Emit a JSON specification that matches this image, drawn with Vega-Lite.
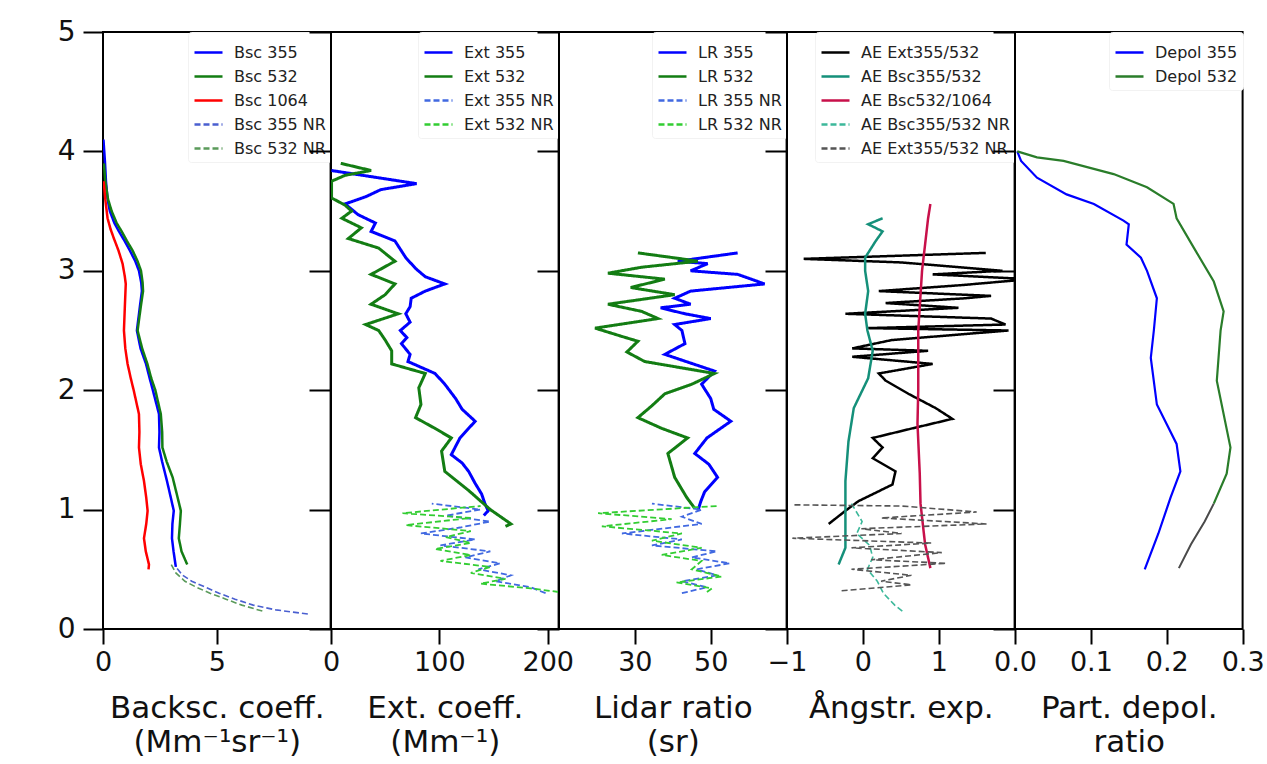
{
"$schema":"https://vega.github.io/schema/vega-lite/v6.json",
"autosize":{"type":"pad"},
"padding":{"left":56,"top":17,"right":0,"bottom":0},
"background":"white",
"spacing":0,
"bounds":"flush",
"datasets":{
"bsc":[
{"s":"Bsc 355","h":4.1,"v":0.02},{"s":"Bsc 355","h":3.9,"v":0.09},{"s":"Bsc 355","h":3.75,"v":0.13},{"s":"Bsc 355","h":3.6,"v":0.2},{"s":"Bsc 355","h":3.5,"v":0.3},{"s":"Bsc 355","h":3.4,"v":0.5},{"s":"Bsc 355","h":3.33,"v":0.7},{"s":"Bsc 355","h":3.25,"v":0.95},{"s":"Bsc 355","h":3.17,"v":1.18},{"s":"Bsc 355","h":3.08,"v":1.42},{"s":"Bsc 355","h":3.0,"v":1.58},{"s":"Bsc 355","h":2.9,"v":1.68},{"s":"Bsc 355","h":2.83,"v":1.71},{"s":"Bsc 355","h":2.7,"v":1.62},{"s":"Bsc 355","h":2.5,"v":1.49},{"s":"Bsc 355","h":2.35,"v":1.65},{"s":"Bsc 355","h":2.22,"v":1.89},{"s":"Bsc 355","h":2.1,"v":2.05},{"s":"Bsc 355","h":2.0,"v":2.19},{"s":"Bsc 355","h":1.8,"v":2.46},{"s":"Bsc 355","h":1.65,"v":2.48},{"s":"Bsc 355","h":1.52,"v":2.46},{"s":"Bsc 355","h":1.4,"v":2.6},{"s":"Bsc 355","h":1.24,"v":2.81},{"s":"Bsc 355","h":1.1,"v":2.98},{"s":"Bsc 355","h":0.99,"v":3.11},{"s":"Bsc 355","h":0.88,"v":3.05},{"s":"Bsc 355","h":0.76,"v":3.03},{"s":"Bsc 355","h":0.65,"v":3.1},{"s":"Bsc 355","h":0.52,"v":3.2},
{"s":"Bsc 532","h":3.9,"v":0.04},{"s":"Bsc 532","h":3.75,"v":0.1},{"s":"Bsc 532","h":3.6,"v":0.22},{"s":"Bsc 532","h":3.5,"v":0.38},{"s":"Bsc 532","h":3.4,"v":0.6},{"s":"Bsc 532","h":3.33,"v":0.82},{"s":"Bsc 532","h":3.25,"v":1.05},{"s":"Bsc 532","h":3.17,"v":1.3},{"s":"Bsc 532","h":3.08,"v":1.52},{"s":"Bsc 532","h":3.0,"v":1.67},{"s":"Bsc 532","h":2.9,"v":1.74},{"s":"Bsc 532","h":2.83,"v":1.76},{"s":"Bsc 532","h":2.7,"v":1.66},{"s":"Bsc 532","h":2.5,"v":1.52},{"s":"Bsc 532","h":2.35,"v":1.72},{"s":"Bsc 532","h":2.22,"v":1.95},{"s":"Bsc 532","h":2.1,"v":2.12},{"s":"Bsc 532","h":2.0,"v":2.3},{"s":"Bsc 532","h":1.8,"v":2.54},{"s":"Bsc 532","h":1.65,"v":2.6},{"s":"Bsc 532","h":1.52,"v":2.61},{"s":"Bsc 532","h":1.4,"v":2.8},{"s":"Bsc 532","h":1.27,"v":3.06},{"s":"Bsc 532","h":1.1,"v":3.28},{"s":"Bsc 532","h":0.99,"v":3.42},{"s":"Bsc 532","h":0.88,"v":3.38},{"s":"Bsc 532","h":0.76,"v":3.33},{"s":"Bsc 532","h":0.65,"v":3.45},{"s":"Bsc 532","h":0.54,"v":3.7},
{"s":"Bsc 1064","h":3.75,"v":0.03},{"s":"Bsc 1064","h":3.6,"v":0.1},{"s":"Bsc 1064","h":3.44,"v":0.2},{"s":"Bsc 1064","h":3.35,"v":0.33},{"s":"Bsc 1064","h":3.27,"v":0.48},{"s":"Bsc 1064","h":3.17,"v":0.68},{"s":"Bsc 1064","h":3.06,"v":0.86},{"s":"Bsc 1064","h":2.95,"v":0.96},{"s":"Bsc 1064","h":2.89,"v":1.0},{"s":"Bsc 1064","h":2.7,"v":0.96},{"s":"Bsc 1064","h":2.5,"v":0.92},{"s":"Bsc 1064","h":2.35,"v":0.98},{"s":"Bsc 1064","h":2.22,"v":1.08},{"s":"Bsc 1064","h":2.1,"v":1.22},{"s":"Bsc 1064","h":1.99,"v":1.36},{"s":"Bsc 1064","h":1.8,"v":1.58},{"s":"Bsc 1064","h":1.65,"v":1.6},{"s":"Bsc 1064","h":1.52,"v":1.58},{"s":"Bsc 1064","h":1.38,"v":1.66},{"s":"Bsc 1064","h":1.24,"v":1.8},{"s":"Bsc 1064","h":1.1,"v":1.9},{"s":"Bsc 1064","h":0.99,"v":1.96},{"s":"Bsc 1064","h":0.88,"v":1.9},{"s":"Bsc 1064","h":0.76,"v":1.8},{"s":"Bsc 1064","h":0.65,"v":1.88},{"s":"Bsc 1064","h":0.54,"v":2.02},{"s":"Bsc 1064","h":0.5,"v":2.0},
{"s":"Bsc 355 NR","h":0.52,"v":3.2},{"s":"Bsc 355 NR","h":0.45,"v":3.5},{"s":"Bsc 355 NR","h":0.4,"v":3.9},{"s":"Bsc 355 NR","h":0.35,"v":4.5},{"s":"Bsc 355 NR","h":0.3,"v":5.1},{"s":"Bsc 355 NR","h":0.25,"v":5.8},{"s":"Bsc 355 NR","h":0.2,"v":6.6},{"s":"Bsc 355 NR","h":0.16,"v":7.6},{"s":"Bsc 355 NR","h":0.125,"v":9.0},
{"s":"Bsc 532 NR","h":0.54,"v":3.0},{"s":"Bsc 532 NR","h":0.47,"v":3.2},{"s":"Bsc 532 NR","h":0.4,"v":3.6},{"s":"Bsc 532 NR","h":0.35,"v":4.1},{"s":"Bsc 532 NR","h":0.3,"v":4.7},{"s":"Bsc 532 NR","h":0.25,"v":5.4},{"s":"Bsc 532 NR","h":0.2,"v":6.1},{"s":"Bsc 532 NR","h":0.15,"v":7.0}
],
"ext":[
{"s":"Ext 355","h":3.84,"v":0.4},{"s":"Ext 355","h":3.79,"v":36},{"s":"Ext 355","h":3.73,"v":79},{"s":"Ext 355","h":3.68,"v":46},{"s":"Ext 355","h":3.62,"v":32},{"s":"Ext 355","h":3.56,"v":13},{"s":"Ext 355","h":3.47,"v":25},{"s":"Ext 355","h":3.4,"v":41},{"s":"Ext 355","h":3.33,"v":37},{"s":"Ext 355","h":3.25,"v":59},{"s":"Ext 355","h":3.18,"v":64},{"s":"Ext 355","h":3.11,"v":69},{"s":"Ext 355","h":3.02,"v":78},{"s":"Ext 355","h":2.95,"v":87},{"s":"Ext 355","h":2.89,"v":105},{"s":"Ext 355","h":2.83,"v":87},{"s":"Ext 355","h":2.77,"v":74},{"s":"Ext 355","h":2.7,"v":73},{"s":"Ext 355","h":2.64,"v":69},{"s":"Ext 355","h":2.57,"v":73},{"s":"Ext 355","h":2.5,"v":64},{"s":"Ext 355","h":2.44,"v":70},{"s":"Ext 355","h":2.39,"v":65},{"s":"Ext 355","h":2.3,"v":73},{"s":"Ext 355","h":2.24,"v":71},{"s":"Ext 355","h":2.14,"v":96},{"s":"Ext 355","h":2.05,"v":105},{"s":"Ext 355","h":1.93,"v":115},{"s":"Ext 355","h":1.84,"v":121},{"s":"Ext 355","h":1.74,"v":133},{"s":"Ext 355","h":1.6,"v":119},{"s":"Ext 355","h":1.46,"v":111},{"s":"Ext 355","h":1.39,"v":121},{"s":"Ext 355","h":1.32,"v":127},{"s":"Ext 355","h":1.22,"v":133},{"s":"Ext 355","h":1.13,"v":139},{"s":"Ext 355","h":1.05,"v":142},{"s":"Ext 355","h":0.99,"v":145},{"s":"Ext 355","h":0.95,"v":141},
{"s":"Ext 532","h":3.9,"v":9},{"s":"Ext 532","h":3.84,"v":37},{"s":"Ext 532","h":3.8,"v":13},{"s":"Ext 532","h":3.75,"v":0.5},{"s":"Ext 532","h":3.61,"v":0.5},{"s":"Ext 532","h":3.55,"v":13},{"s":"Ext 532","h":3.5,"v":19},{"s":"Ext 532","h":3.44,"v":10},{"s":"Ext 532","h":3.36,"v":28},{"s":"Ext 532","h":3.27,"v":16},{"s":"Ext 532","h":3.19,"v":44},{"s":"Ext 532","h":3.08,"v":59},{"s":"Ext 532","h":2.97,"v":37},{"s":"Ext 532","h":2.89,"v":59},{"s":"Ext 532","h":2.8,"v":50},{"s":"Ext 532","h":2.72,"v":37},{"s":"Ext 532","h":2.64,"v":62},{"s":"Ext 532","h":2.55,"v":32},{"s":"Ext 532","h":2.5,"v":44},{"s":"Ext 532","h":2.42,"v":50},{"s":"Ext 532","h":2.33,"v":56},{"s":"Ext 532","h":2.22,"v":56},{"s":"Ext 532","h":2.14,"v":87},{"s":"Ext 532","h":2.02,"v":81},{"s":"Ext 532","h":1.88,"v":83},{"s":"Ext 532","h":1.77,"v":78},{"s":"Ext 532","h":1.68,"v":96},{"s":"Ext 532","h":1.6,"v":111},{"s":"Ext 532","h":1.49,"v":102},{"s":"Ext 532","h":1.32,"v":105},{"s":"Ext 532","h":1.16,"v":127},{"s":"Ext 532","h":1.0,"v":147},{"s":"Ext 532","h":0.88,"v":166},{"s":"Ext 532","h":0.86,"v":161},
{"s":"Ext 355 NR","h":1.05,"v":93},{"s":"Ext 355 NR","h":1.0,"v":138},{"s":"Ext 355 NR","h":0.95,"v":106},{"s":"Ext 355 NR","h":0.9,"v":147},{"s":"Ext 355 NR","h":0.85,"v":119},{"s":"Ext 355 NR","h":0.8,"v":83},{"s":"Ext 355 NR","h":0.75,"v":133},{"s":"Ext 355 NR","h":0.7,"v":101},{"s":"Ext 355 NR","h":0.65,"v":147},{"s":"Ext 355 NR","h":0.6,"v":124},{"s":"Ext 355 NR","h":0.55,"v":156},{"s":"Ext 355 NR","h":0.5,"v":136},{"s":"Ext 355 NR","h":0.45,"v":166},{"s":"Ext 355 NR","h":0.4,"v":152},{"s":"Ext 355 NR","h":0.35,"v":184},{"s":"Ext 355 NR","h":0.3,"v":198},
{"s":"Ext 532 NR","h":1.03,"v":138},{"s":"Ext 532 NR","h":0.97,"v":66},{"s":"Ext 532 NR","h":0.93,"v":129},{"s":"Ext 532 NR","h":0.87,"v":69},{"s":"Ext 532 NR","h":0.82,"v":129},{"s":"Ext 532 NR","h":0.77,"v":106},{"s":"Ext 532 NR","h":0.72,"v":129},{"s":"Ext 532 NR","h":0.67,"v":96},{"s":"Ext 532 NR","h":0.62,"v":129},{"s":"Ext 532 NR","h":0.57,"v":101},{"s":"Ext 532 NR","h":0.52,"v":147},{"s":"Ext 532 NR","h":0.47,"v":129},{"s":"Ext 532 NR","h":0.42,"v":161},{"s":"Ext 532 NR","h":0.38,"v":138},{"s":"Ext 532 NR","h":0.34,"v":184},{"s":"Ext 532 NR","h":0.31,"v":210}
],
"lr":[
{"s":"LR 355","h":3.15,"v":57.1},{"s":"LR 355","h":3.08,"v":41.3},{"s":"LR 355","h":3.06,"v":49.2},{"s":"LR 355","h":3.0,"v":44.7},{"s":"LR 355","h":2.97,"v":57.1},{"s":"LR 355","h":2.89,"v":64.2},{"s":"LR 355","h":2.83,"v":44.7},{"s":"LR 355","h":2.77,"v":40.5},{"s":"LR 355","h":2.72,"v":44.7},{"s":"LR 355","h":2.69,"v":36.8},{"s":"LR 355","h":2.64,"v":43.2},{"s":"LR 355","h":2.6,"v":50},{"s":"LR 355","h":2.55,"v":40.5},{"s":"LR 355","h":2.5,"v":42.4},{"s":"LR 355","h":2.39,"v":43.2},{"s":"LR 355","h":2.3,"v":37.9},{"s":"LR 355","h":2.16,"v":51},{"s":"LR 355","h":2.05,"v":47.6},{"s":"LR 355","h":1.93,"v":50},{"s":"LR 355","h":1.84,"v":50.8},{"s":"LR 355","h":1.74,"v":55.3},{"s":"LR 355","h":1.6,"v":49},{"s":"LR 355","h":1.47,"v":45.8},{"s":"LR 355","h":1.38,"v":49.5},{"s":"LR 355","h":1.27,"v":51.8},{"s":"LR 355","h":1.15,"v":48.4},{"s":"LR 355","h":1.07,"v":47.4},{"s":"LR 355","h":0.99,"v":46.6},
{"s":"LR 532","h":3.15,"v":30.8},{"s":"LR 532","h":3.1,"v":42.4},{"s":"LR 532","h":3.08,"v":46.6},{"s":"LR 532","h":3.03,"v":31.8},{"s":"LR 532","h":2.98,"v":22.9},{"s":"LR 532","h":2.93,"v":37.9},{"s":"LR 532","h":2.86,"v":28.9},{"s":"LR 532","h":2.8,"v":40.5},{"s":"LR 532","h":2.72,"v":22.9},{"s":"LR 532","h":2.66,"v":31.8},{"s":"LR 532","h":2.6,"v":36.1},{"s":"LR 532","h":2.52,"v":19.5},{"s":"LR 532","h":2.45,"v":26.6},{"s":"LR 532","h":2.41,"v":30.8},{"s":"LR 532","h":2.32,"v":27.9},{"s":"LR 532","h":2.24,"v":32.6},{"s":"LR 532","h":2.14,"v":51},{"s":"LR 532","h":2.05,"v":45},{"s":"LR 532","h":1.97,"v":37.9},{"s":"LR 532","h":1.87,"v":34.5},{"s":"LR 532","h":1.77,"v":30.8},{"s":"LR 532","h":1.68,"v":37.1},{"s":"LR 532","h":1.6,"v":43.9},{"s":"LR 532","h":1.47,"v":38.7},{"s":"LR 532","h":1.27,"v":40.5},{"s":"LR 532","h":1.1,"v":43.7},{"s":"LR 532","h":1.01,"v":45.8},
{"s":"LR 355 NR","h":1.05,"v":34.5},{"s":"LR 355 NR","h":1.0,"v":47.6},{"s":"LR 355 NR","h":0.94,"v":42.4},{"s":"LR 355 NR","h":0.88,"v":47.6},{"s":"LR 355 NR","h":0.8,"v":26.6},{"s":"LR 355 NR","h":0.75,"v":42.4},{"s":"LR 355 NR","h":0.7,"v":34.5},{"s":"LR 355 NR","h":0.65,"v":51.6},{"s":"LR 355 NR","h":0.6,"v":45},{"s":"LR 355 NR","h":0.55,"v":55},{"s":"LR 355 NR","h":0.5,"v":46.3},{"s":"LR 355 NR","h":0.45,"v":51.6},{"s":"LR 355 NR","h":0.4,"v":42.4},{"s":"LR 355 NR","h":0.35,"v":49},{"s":"LR 355 NR","h":0.3,"v":42.4},
{"s":"LR 532 NR","h":1.03,"v":51.6},{"s":"LR 532 NR","h":0.97,"v":20.3},{"s":"LR 532 NR","h":0.92,"v":39.7},{"s":"LR 532 NR","h":0.86,"v":21.3},{"s":"LR 532 NR","h":0.8,"v":42.4},{"s":"LR 532 NR","h":0.74,"v":34.5},{"s":"LR 532 NR","h":0.68,"v":47.6},{"s":"LR 532 NR","h":0.62,"v":37.1},{"s":"LR 532 NR","h":0.57,"v":47.6},{"s":"LR 532 NR","h":0.5,"v":45},{"s":"LR 532 NR","h":0.44,"v":52.9},{"s":"LR 532 NR","h":0.39,"v":41},{"s":"LR 532 NR","h":0.34,"v":50.3},{"s":"LR 532 NR","h":0.31,"v":49}
],
"ae":[
{"s":"AE Ext355/532","h":3.15,"v":1.62},{"s":"AE Ext355/532","h":3.1,"v":-0.78},{"s":"AE Ext355/532","h":3.07,"v":0.51},{"s":"AE Ext355/532","h":3.0,"v":1.84},{"s":"AE Ext355/532","h":2.97,"v":0.92},{"s":"AE Ext355/532","h":2.93,"v":2.2},{"s":"AE Ext355/532","h":2.88,"v":1.3},{"s":"AE Ext355/532","h":2.83,"v":0.21},{"s":"AE Ext355/532","h":2.79,"v":1.69},{"s":"AE Ext355/532","h":2.77,"v":1.35},{"s":"AE Ext355/532","h":2.73,"v":0.3},{"s":"AE Ext355/532","h":2.69,"v":1.26},{"s":"AE Ext355/532","h":2.64,"v":-0.23},{"s":"AE Ext355/532","h":2.6,"v":1.69},{"s":"AE Ext355/532","h":2.55,"v":1.88},{"s":"AE Ext355/532","h":2.52,"v":0.07},{"s":"AE Ext355/532","h":2.5,"v":1.92},{"s":"AE Ext355/532","h":2.42,"v":0.38},{"s":"AE Ext355/532","h":2.35,"v":-0.14},{"s":"AE Ext355/532","h":2.33,"v":0.86},{"s":"AE Ext355/532","h":2.28,"v":-0.14},{"s":"AE Ext355/532","h":2.22,"v":0.92},{"s":"AE Ext355/532","h":2.14,"v":0.21},{"s":"AE Ext355/532","h":2.08,"v":0.3},{"s":"AE Ext355/532","h":1.97,"v":0.6},{"s":"AE Ext355/532","h":1.85,"v":0.96},{"s":"AE Ext355/532","h":1.76,"v":1.18},{"s":"AE Ext355/532","h":1.68,"v":0.65},{"s":"AE Ext355/532","h":1.6,"v":0.13},{"s":"AE Ext355/532","h":1.52,"v":0.26},{"s":"AE Ext355/532","h":1.43,"v":0.13},{"s":"AE Ext355/532","h":1.32,"v":0.43},{"s":"AE Ext355/532","h":1.21,"v":0.39},{"s":"AE Ext355/532","h":1.07,"v":-0.06},{"s":"AE Ext355/532","h":0.99,"v":-0.23},{"s":"AE Ext355/532","h":0.88,"v":-0.45},
{"s":"AE Bsc355/532","h":3.44,"v":0.26},{"s":"AE Bsc355/532","h":3.39,"v":0.07},{"s":"AE Bsc355/532","h":3.33,"v":0.26},{"s":"AE Bsc355/532","h":3.25,"v":0.17},{"s":"AE Bsc355/532","h":3.11,"v":0.03},{"s":"AE Bsc355/532","h":3.0,"v":0.03},{"s":"AE Bsc355/532","h":2.83,"v":0.07},{"s":"AE Bsc355/532","h":2.64,"v":0.03},{"s":"AE Bsc355/532","h":2.5,"v":0.06},{"s":"AE Bsc355/532","h":2.33,"v":0.13},{"s":"AE Bsc355/532","h":2.1,"v":0.07},{"s":"AE Bsc355/532","h":1.85,"v":-0.12},{"s":"AE Bsc355/532","h":1.57,"v":-0.19},{"s":"AE Bsc355/532","h":1.24,"v":-0.23},{"s":"AE Bsc355/532","h":0.99,"v":-0.23},{"s":"AE Bsc355/532","h":0.68,"v":-0.23},{"s":"AE Bsc355/532","h":0.54,"v":-0.32},
{"s":"AE Bsc532/1064","h":3.56,"v":0.89},{"s":"AE Bsc532/1064","h":3.44,"v":0.86},{"s":"AE Bsc532/1064","h":3.22,"v":0.82},{"s":"AE Bsc532/1064","h":3.0,"v":0.78},{"s":"AE Bsc532/1064","h":2.5,"v":0.73},{"s":"AE Bsc532/1064","h":2.0,"v":0.73},{"s":"AE Bsc532/1064","h":1.72,"v":0.72},{"s":"AE Bsc532/1064","h":1.3,"v":0.75},{"s":"AE Bsc532/1064","h":1.05,"v":0.76},{"s":"AE Bsc532/1064","h":0.71,"v":0.82},{"s":"AE Bsc532/1064","h":0.51,"v":0.89},
{"s":"AE Bsc355/532 NR","h":1.05,"v":-0.15},{"s":"AE Bsc355/532 NR","h":0.9,"v":-0.01},{"s":"AE Bsc355/532 NR","h":0.8,"v":-0.08},{"s":"AE Bsc355/532 NR","h":0.7,"v":0.09},{"s":"AE Bsc355/532 NR","h":0.6,"v":0.13},{"s":"AE Bsc355/532 NR","h":0.5,"v":0.06},{"s":"AE Bsc355/532 NR","h":0.4,"v":0.19},{"s":"AE Bsc355/532 NR","h":0.3,"v":0.27},{"s":"AE Bsc355/532 NR","h":0.2,"v":0.42},{"s":"AE Bsc355/532 NR","h":0.15,"v":0.52},
{"s":"AE Ext355/532 NR","h":1.04,"v":-0.93},{"s":"AE Ext355/532 NR","h":1.03,"v":0.51},{"s":"AE Ext355/532 NR","h":0.98,"v":1.5},{"s":"AE Ext355/532 NR","h":0.93,"v":0.24},{"s":"AE Ext355/532 NR","h":0.88,"v":1.63},{"s":"AE Ext355/532 NR","h":0.84,"v":-0.02},{"s":"AE Ext355/532 NR","h":0.8,"v":0.51},{"s":"AE Ext355/532 NR","h":0.76,"v":-0.93},{"s":"AE Ext355/532 NR","h":0.72,"v":0.9},{"s":"AE Ext355/532 NR","h":0.68,"v":-0.15},{"s":"AE Ext355/532 NR","h":0.64,"v":1.04},{"s":"AE Ext355/532 NR","h":0.58,"v":0.11},{"s":"AE Ext355/532 NR","h":0.55,"v":1.1},{"s":"AE Ext355/532 NR","h":0.5,"v":-0.15},{"s":"AE Ext355/532 NR","h":0.45,"v":0.64},{"s":"AE Ext355/532 NR","h":0.4,"v":0.24},{"s":"AE Ext355/532 NR","h":0.37,"v":0.64},{"s":"AE Ext355/532 NR","h":0.32,"v":-0.28}
],
"depol":[
{"s":"Depol 355","h":4.0,"v":0.003},{"s":"Depol 355","h":3.92,"v":0.008},{"s":"Depol 355","h":3.78,"v":0.029},{"s":"Depol 355","h":3.64,"v":0.068},{"s":"Depol 355","h":3.56,"v":0.104},{"s":"Depol 355","h":3.42,"v":0.143},{"s":"Depol 355","h":3.39,"v":0.15},{"s":"Depol 355","h":3.22,"v":0.147},{"s":"Depol 355","h":3.11,"v":0.166},{"s":"Depol 355","h":3.0,"v":0.174},{"s":"Depol 355","h":2.77,"v":0.187},{"s":"Depol 355","h":2.5,"v":0.183},{"s":"Depol 355","h":2.27,"v":0.179},{"s":"Depol 355","h":1.88,"v":0.187},{"s":"Depol 355","h":1.55,"v":0.213},{"s":"Depol 355","h":1.32,"v":0.218},{"s":"Depol 355","h":1.1,"v":0.205},{"s":"Depol 355","h":0.8,"v":0.189},{"s":"Depol 355","h":0.5,"v":0.171},
{"s":"Depol 532","h":4.0,"v":0.003},{"s":"Depol 532","h":3.95,"v":0.029},{"s":"Depol 532","h":3.92,"v":0.064},{"s":"Depol 532","h":3.81,"v":0.13},{"s":"Depol 532","h":3.7,"v":0.174},{"s":"Depol 532","h":3.56,"v":0.209},{"s":"Depol 532","h":3.44,"v":0.213},{"s":"Depol 532","h":3.19,"v":0.236},{"s":"Depol 532","h":2.91,"v":0.262},{"s":"Depol 532","h":2.66,"v":0.275},{"s":"Depol 532","h":2.5,"v":0.271},{"s":"Depol 532","h":2.08,"v":0.266},{"s":"Depol 532","h":1.52,"v":0.284},{"s":"Depol 532","h":1.3,"v":0.279},{"s":"Depol 532","h":1.05,"v":0.262}
],
"depolgray":[
{"h":1.05,"v":0.262},{"h":0.9,"v":0.25},{"h":0.71,"v":0.232},{"h":0.51,"v":0.216}
]
},
"hconcat":[
{
"width":227.6,"height":597,
"data":{"name":"bsc"},
"layer":[
{"transform":[{"filter":"indexof(datum.s,'NR')<0"}],
"mark":{"type":"line","strokeWidth":2.5,"clip":true},
"encoding":{
"y":{"field":"h","type":"quantitative","scale":{"domain":[0,5],"nice":false},"axis":{"values":[0,1,2,3,4,5],"format":"d","labelFontSize":28,"title":null}},
"x":{"field":"v","type":"quantitative","scale":{"domain":[0,10],"nice":false},"axis":{"values":[0,5],"format":"d","title":["Backsc. coeff.","(Mm⁻¹sr⁻¹)"]}},
"order":{"field":"h","type":"quantitative"},
"color":{"field":"s","type":"nominal","scale":{"domain":["Bsc 355","Bsc 532","Bsc 1064","Bsc 355 NR","Bsc 532 NR"],"range":["#0000ff","#137d13","#ff0000","#4a5fd0","#5a9a5a"]},"legend":{"title":null}},
"strokeDash":{"field":"s","type":"nominal","scale":{"domain":["Bsc 355","Bsc 532","Bsc 1064","Bsc 355 NR","Bsc 532 NR"],"range":[[1,0],[1,0],[1,0],[6,3],[6,3]]},"legend":{"title":null}}
}},
{"transform":[{"filter":"indexof(datum.s,'NR')>=0"}],
"mark":{"type":"line","strokeWidth":1.6,"clip":true},
"encoding":{
"y":{"field":"h","type":"quantitative"},
"x":{"field":"v","type":"quantitative"},
"order":{"field":"h","type":"quantitative"},
"color":{"field":"s","type":"nominal"},
"strokeDash":{"field":"s","type":"nominal"}
}}
]
},
{
"width":227.6,"height":597,
"data":{"name":"ext"},
"layer":[
{"transform":[{"filter":"indexof(datum.s,'NR')<0"}],
"mark":{"type":"line","strokeWidth":3,"clip":true},
"encoding":{
"y":{"field":"h","type":"quantitative","scale":{"domain":[0,5],"nice":false},"axis":{"values":[0,1,2,3,4,5],"labels":false,"title":null,"tickSize":22}},
"x":{"field":"v","type":"quantitative","scale":{"domain":[0,210],"nice":false},"axis":{"values":[0,100,200],"format":"d","title":["Ext. coeff.","(Mm⁻¹)"]}},
"order":{"field":"h","type":"quantitative"},
"color":{"field":"s","type":"nominal","scale":{"domain":["Ext 355","Ext 532","Ext 355 NR","Ext 532 NR"],"range":["#0000ff","#137d13","#4169e1","#32cd32"]},"legend":{"title":null}},
"strokeDash":{"field":"s","type":"nominal","scale":{"domain":["Ext 355","Ext 532","Ext 355 NR","Ext 532 NR"],"range":[[1,0],[1,0],[6,3],[6,3]]},"legend":{"title":null}}
}},
{"transform":[{"filter":"indexof(datum.s,'NR')>=0"}],
"mark":{"type":"line","strokeWidth":1.8,"clip":true},
"encoding":{
"y":{"field":"h","type":"quantitative"},
"x":{"field":"v","type":"quantitative"},
"order":{"field":"h","type":"quantitative"},
"color":{"field":"s","type":"nominal"},
"strokeDash":{"field":"s","type":"nominal"}
}}
]
},
{
"width":227.6,"height":597,
"data":{"name":"lr"},
"layer":[
{"transform":[{"filter":"indexof(datum.s,'NR')<0"}],
"mark":{"type":"line","strokeWidth":3,"clip":true},
"encoding":{
"y":{"field":"h","type":"quantitative","scale":{"domain":[0,5],"nice":false},"axis":{"values":[0,1,2,3,4,5],"labels":false,"title":null,"tickSize":22}},
"x":{"field":"v","type":"quantitative","scale":{"domain":[10,70],"nice":false,"zero":false},"axis":{"values":[30,50],"format":"d","title":["Lidar ratio","(sr)"]}},
"order":{"field":"h","type":"quantitative"},
"color":{"field":"s","type":"nominal","scale":{"domain":["LR 355","LR 532","LR 355 NR","LR 532 NR"],"range":["#0000ff","#137d13","#4169e1","#32cd32"]},"legend":{"title":null}},
"strokeDash":{"field":"s","type":"nominal","scale":{"domain":["LR 355","LR 532","LR 355 NR","LR 532 NR"],"range":[[1,0],[1,0],[6,3],[6,3]]},"legend":{"title":null}}
}},
{"transform":[{"filter":"indexof(datum.s,'NR')>=0"}],
"mark":{"type":"line","strokeWidth":1.8,"clip":true},
"encoding":{
"y":{"field":"h","type":"quantitative"},
"x":{"field":"v","type":"quantitative"},
"order":{"field":"h","type":"quantitative"},
"color":{"field":"s","type":"nominal"},
"strokeDash":{"field":"s","type":"nominal"}
}}
]
},
{
"width":227.6,"height":597,
"data":{"name":"ae"},
"layer":[
{"transform":[{"filter":"indexof(datum.s,'NR')<0"}],
"mark":{"type":"line","strokeWidth":2.5,"clip":true},
"encoding":{
"y":{"field":"h","type":"quantitative","scale":{"domain":[0,5],"nice":false},"axis":{"values":[0,1,2,3,4,5],"labels":false,"title":null,"tickSize":22}},
"x":{"field":"v","type":"quantitative","scale":{"domain":[-1,2],"nice":false,"zero":false},"axis":{"values":[-1,0,1],"format":"d","title":"Ångstr. exp."}},
"order":{"field":"h","type":"quantitative"},
"color":{"field":"s","type":"nominal","scale":{"domain":["AE Ext355/532","AE Bsc355/532","AE Bsc532/1064","AE Bsc355/532 NR","AE Ext355/532 NR"],"range":["#000000","#15907a","#c8104a","#3cb89a","#555555"]},"legend":{"title":null}},
"strokeDash":{"field":"s","type":"nominal","scale":{"domain":["AE Ext355/532","AE Bsc355/532","AE Bsc532/1064","AE Bsc355/532 NR","AE Ext355/532 NR"],"range":[[1,0],[1,0],[1,0],[6,3],[6,3]]},"legend":{"title":null}}
}},
{"transform":[{"filter":"indexof(datum.s,'NR')>=0"}],
"mark":{"type":"line","strokeWidth":1.6,"clip":true},
"encoding":{
"y":{"field":"h","type":"quantitative"},
"x":{"field":"v","type":"quantitative"},
"order":{"field":"h","type":"quantitative"},
"color":{"field":"s","type":"nominal"},
"strokeDash":{"field":"s","type":"nominal"}
}}
]
},
{
"width":227.6,"height":597,
"layer":[
{"data":{"name":"depol"},
"mark":{"type":"line","strokeWidth":2.2,"clip":true},
"encoding":{
"y":{"field":"h","type":"quantitative","scale":{"domain":[0,5],"nice":false},"axis":{"values":[0,1,2,3,4,5],"labels":false,"title":null,"tickSize":22}},
"x":{"field":"v","type":"quantitative","scale":{"domain":[0,0.3],"nice":false},"axis":{"values":[0,0.1,0.2,0.3],"format":".1f","title":["Part. depol.","ratio"]}},
"order":{"field":"h","type":"quantitative"},
"color":{"field":"s","type":"nominal","scale":{"domain":["Depol 355","Depol 532"],"range":["#0000ff","#2a7d2a"]},"legend":{"title":null}}
}},
{"data":{"name":"depolgray"},
"mark":{"type":"line","strokeWidth":2,"clip":true,"color":"#4a4a4a"},
"encoding":{
"y":{"field":"h","type":"quantitative"},
"x":{"field":"v","type":"quantitative"},
"order":{"field":"h","type":"quantitative"}
}}
]
}
],
"resolve":{"scale":{"color":"independent","strokeDash":"independent","x":"independent"},"legend":{"color":"independent","strokeDash":"independent"}},
"config":{
"font":"DejaVu Sans",
"view":{"stroke":"black","strokeWidth":2},
"axis":{"grid":false,"domain":false,"tickColor":"black","tickWidth":2,"labelColor":"#111","titleColor":"#111","labelFontSize":27,"titleFontSize":31,"titleFontWeight":"normal","labelFont":"DejaVu Sans","titleFont":"DejaVu Sans"},
"axisX":{"tickSize":15,"labelPadding":5,"titlePadding":18,"titleLineHeight":34,"labelFlush":false,"labelOverlap":false},
"axisY":{"tickSize":20,"labelPadding":8},
"legend":{"orient":"top-right","offset":0,"labelFontSize":16,"labelFont":"DejaVu Sans","labelColor":"#222","symbolType":"stroke","symbolSize":784,"symbolStrokeWidth":2.5,"strokeColor":"#f2f2f2","fillColor":"white","padding":5,"cornerRadius":3,"rowPadding":-7,"labelOffset":10}
}
}
